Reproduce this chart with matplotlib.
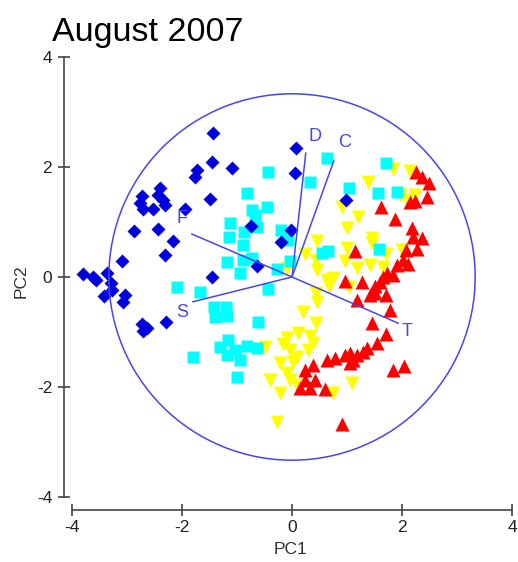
import numpy as np
import matplotlib.pyplot as plt
from matplotlib.patches import Circle

plt.rcParams['font.family'] = ['Liberation Sans', 'DejaVu Sans']
plt.rcParams['axes.unicode_minus'] = False

# PC scores, one group per marker colour
blue_x = [-1.44, -1.45, -1.09, -1.73, -1.76, -1.49, -2.73, -2.40, -2.44, -2.35,
          -2.76, -2.71, -2.53, -2.31, -1.95, -2.87, -2.44, -2.16, -2.31, -3.09,
          -1.45, -3.80, -3.62, -3.56, -3.36, -3.29, -3.27, -3.42, -3.04, -3.07,
          -2.73, -2.64, -2.71, -2.29, 0.07, 0.05, -0.75, -0.02, -0.20, -0.64, 0.98]
blue_y = [2.62, 2.09, 1.98, 1.95, 1.82, 1.42, 1.47, 1.62, 1.49, 1.40,
          1.35, 1.24, 1.24, 1.31, 1.24, 0.84, 0.87, 0.65, 0.40, 0.29,
          0.00, 0.05, 0.00, -0.05, 0.07, -0.11, -0.24, -0.35, -0.33, -0.45,
          -0.85, -0.93, -0.98, -0.82, 2.35, 1.89, 0.93, 0.85, 0.64, 0.20, 1.40]

cyan_x = [-0.44, 0.33, 0.64, -0.82, -0.45, -0.73, -0.67, -1.13, -1.15, -0.87,
          -0.64, -0.89, -0.20, -0.07, -1.18, -0.89, -0.95, -0.73, -0.27, -0.04,
          0.55, 0.65, -0.44, -1.67, -2.09, -1.42, -1.20, -1.40, -1.18, -0.62,
          -1.16, -1.31, -0.82, -0.64, -1.18, -1.04, -0.95, -1.00, -1.80, 1.71,
          1.04, 1.56, 1.91, 1.58]
cyan_y = [1.91, 1.73, 2.16, 1.53, 1.27, 1.22, 1.13, 0.98, 0.73, 0.82,
          0.91, 0.58, 0.85, 0.67, 0.27, 0.31, 0.07, 0.35, 0.15, 0.29,
          0.44, 0.47, -0.22, -0.27, -0.18, -0.55, -0.55, -0.73, -0.71, -0.82,
          -1.15, -1.27, -1.25, -1.29, -1.42, -1.33, -1.51, -1.82, -1.45, 2.07,
          1.62, 1.53, 1.55, 0.51]

yellow_x = [1.84, 2.15, 1.38, 1.96, 2.24, 2.09, 0.91, 1.20, 1.00, 1.45,
            1.45, 1.00, 0.45, 2.00, 1.71, 0.24, 0.44, 0.96, 1.18, 1.42,
            1.65, 0.75, 0.45, 0.64, 1.04, 0.67, 0.44, 0.45, 0.20, 0.44,
            0.11, 0.33, -0.09, 0.38, -0.16, -0.04, 0.29, 0.09, 0.02, -0.22,
            -0.09, -0.04, -0.40, 0.09, -0.22, -0.49, 0.75, 1.09, -0.27, -0.09]
yellow_y = [1.96, 1.93, 1.73, 1.49, 1.49, 1.40, 1.27, 1.09, 0.89, 0.71,
            0.62, 0.53, 0.65, 0.49, 0.42, 0.42, 0.31, 0.29, 0.16, 0.22,
            0.18, -0.02, 0.13, -0.05, -0.18, -0.16, -0.29, -0.45, -0.64, -0.84,
            -1.02, -1.07, -1.11, -1.20, -1.22, -1.33, -1.33, -1.45, -1.55, -1.56,
            -1.75, -1.87, -1.87, -1.96, -2.11, -1.27, -2.11, -1.93, -2.64, 0.16]

red_x = [2.25, 2.36, 2.49, 2.15, 2.24, 2.45, 1.62, 1.87, 2.18, 2.20,
         2.36, 2.07, 2.27, 2.02, 2.11, 1.91, 1.73, 1.84, 1.65, 1.15,
         1.27, 1.51, 0.96, 1.60, 1.51, 1.18, 1.78, 1.71, 1.42, 1.45,
         1.71, 1.55, 1.36, 1.29, 1.18, 1.05, 0.96, 0.78, 0.64, 1.05,
         1.11, 1.84, 2.04, 0.91, 0.38, 0.24, 0.24, 0.42, 0.15, 0.33, 0.60]
red_y = [1.91, 1.82, 1.71, 1.36, 1.38, 1.45, 1.27, 1.05, 0.89, 0.73,
         0.71, 0.49, 0.51, 0.31, 0.24, 0.22, 0.07, 0.04, 0.00, 0.47,
         -0.09, -0.16, -0.07, -0.09, -0.29, -0.42, -0.60, -0.33, -0.33, -0.84,
         -1.04, -1.20, -1.29, -1.36, -1.42, -1.38, -1.42, -1.47, -1.51, -1.56,
         -1.51, -1.69, -1.62, -2.67, -1.60, -1.69, -1.87, -1.87, -2.02, -2.02, -2.04]

# loading vectors and their labels
vec_names = ['D', 'C', 'F', 'S', 'T']
vec_x = [0.25, 0.76, -1.82, -1.80, 1.93]
vec_y = [2.25, 2.11, 0.78, -0.45, -0.84]
lab_x = [0.42, 0.96, -2.00, -2.00, 2.09]
lab_y = [2.55, 2.44, 1.07, -0.65, -1.00]
circle_r = 3.33

ticks = [-4, -2, 0, 2, 4]

fig = plt.figure(figsize=(5.18, 5.62), dpi=100)
ax = fig.add_axes([0.1236, 0.0925, 0.8726, 0.815])

vcol = '#4646F0'

ax.plot(yellow_x, yellow_y, 'v', color='#FFFF00', ms=9.5, mec='none', zorder=2)
ax.plot(red_x, red_y, '^', color='#FF0000', ms=9.5, mec='none', zorder=3)
ax.plot(cyan_x, cyan_y, 's', color='#00FFFF', ms=8, mec='none', zorder=4)
ax.plot(blue_x, blue_y, 'D', color='#0000DD', ms=7, mec='none', zorder=5)

ax.add_patch(Circle((0, 0), circle_r, fill=False, ec=vcol, lw=1.1, zorder=6))
for name, vx, vy, lx, ly in zip(vec_names, vec_x, vec_y, lab_x, lab_y):
    ax.plot([0, vx], [0, vy], color=vcol, lw=1.1, zorder=6)
    ax.text(lx, ly, name, color=vcol, fontsize=13, ha='center', va='center', zorder=7)

ax.set_xlim(-4.145, 4.073)
ax.set_ylim(-4.236, 4.09)

for s in ['top', 'right']:
    ax.spines[s].set_visible(False)
for s in ['left', 'bottom']:
    ax.spines[s].set_color('#444444')
    ax.spines[s].set_linewidth(1.2)
ax.spines['left'].set_bounds(-4, 4)
ax.spines['bottom'].set_bounds(-4, 4)

ax.set_xticks(ticks)
ax.set_yticks(ticks)
ax.tick_params(direction='inout', length=9, width=1.2, color='#444444',
               labelsize=12.5, labelcolor='#222222')
ax.tick_params(axis='y', pad=4)
ax.tick_params(axis='x', pad=3)

ax.set_xlabel('PC1', fontsize=12.5, color='#333333', labelpad=5)
ax.set_ylabel('PC2', fontsize=12.5, color='#333333', labelpad=6)

fig.text(52 / 518, 1 - 41 / 562, 'August 2007', fontsize=24.5, color='black',
         ha='left', va='baseline')

fig.savefig('out.png', dpi=100)
